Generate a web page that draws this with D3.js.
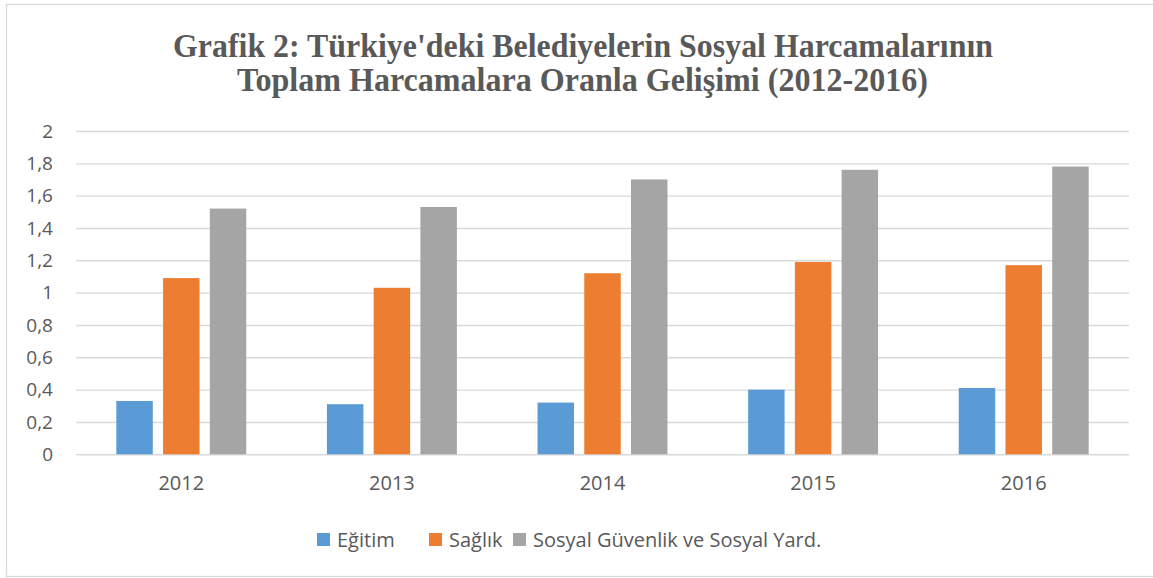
<!DOCTYPE html>
<html>
<head>
<meta charset="utf-8">
<script src="https://cdn.jsdelivr.net/npm/d3@7"></script>
<style>
  body { margin: 0; background: #fff; }
  svg { display: block; }
</style>
</head>
<body>
<svg></svg>
<script>
var years = ["2012", "2013", "2014", "2015", "2016"];
var seriesNames = ["Eğitim", "Sağlık", "Sosyal Güvenlik ve Sosyal Yard."];
var egitim = [0.33, 0.31, 0.32, 0.40, 0.41];
var saglik = [1.09, 1.03, 1.12, 1.19, 1.17];
var sosyal = [1.52, 1.53, 1.70, 1.76, 1.78];
var yTicks = [0, 0.2, 0.4, 0.6, 0.8, 1, 1.2, 1.4, 1.6, 1.8, 2];
var titleLines = ["Grafik 2: Türkiye'deki Belediyelerin Sosyal Harcamalarının",
                  "Toplam Harcamalara Oranla Gelişimi (2012-2016)"];

var colors = ["#5B9BD5", "#ED7D31", "#A5A5A5"];
var textColor = "#595959";
var svg_width = 1153, svg_height = 578;
var plotLeft = 76, plotRight = 1129, plotTop = 131, plotBottom = 454.3;

var svg = d3.select("svg")
  .attr("width", svg_width)
  .attr("height", svg_height);

// outer border of the chart area
svg.append("rect")
  .attr("x", 6.5).attr("y", 4.5)
  .attr("width", 1160).attr("height", 572)
  .attr("fill", "none")
  .attr("stroke", "#d9d9d9")
  .attr("stroke-width", 1.3);

// title
var title = svg.append("g")
  .attr("font-family", "'Liberation Serif', 'Times New Roman', serif")
  .attr("font-weight", "bold")
  .attr("font-size", 34)
  .attr("fill", textColor)
  .attr("text-anchor", "middle");
title.append("text").attr("x", 583).attr("y", 56.5)
  .attr("textLength", 820).attr("lengthAdjust", "spacingAndGlyphs")
  .text(titleLines[0]);
title.append("text").attr("x", 582.5).attr("y", 91)
  .attr("textLength", 691).attr("lengthAdjust", "spacingAndGlyphs")
  .text(titleLines[1]);

var y = d3.scaleLinear().domain([0, 2]).range([plotBottom, plotTop]);
var x0 = d3.scaleBand().domain(years).range([plotLeft, plotRight])
  .paddingInner(0.383).paddingOuter(0.1915);
var x1 = d3.scaleBand().domain([0, 1, 2]).range([0, x0.bandwidth()])
  .paddingInner(0.22).paddingOuter(0);

// gridlines + y labels
var yAxis = svg.append("g")
  .attr("transform", "translate(" + plotLeft + ",0)")
  .call(d3.axisLeft(y).tickValues(yTicks).tickSize(-(plotRight - plotLeft)).tickPadding(23)
    .tickFormat(function(d){ return String(d).replace(".", ","); }));
yAxis.select(".domain").remove();
yAxis.selectAll(".tick line").attr("stroke", "#d9d9d9").attr("stroke-width", 1.4);
yAxis.selectAll(".tick text")
  .attr("fill", textColor)
  .attr("font-family", "'Open Sans', sans-serif")
  .attr("font-size", 19);

// x labels
var xAxis = svg.append("g")
  .attr("transform", "translate(0," + plotBottom + ")")
  .call(d3.axisBottom(x0).tickSize(0).tickPadding(22));
xAxis.select(".domain").remove();
xAxis.selectAll(".tick text")
  .attr("fill", textColor)
  .attr("font-family", "'Open Sans', sans-serif")
  .attr("font-size", 20);

// bars
var series = [egitim, saglik, sosyal];
var groups = svg.selectAll("g.year")
  .data(years)
  .enter().append("g")
  .attr("class", "year")
  .attr("transform", function(d){ return "translate(" + x0(d) + ",0)"; });

groups.selectAll("rect")
  .data(function(d, i){ return series.map(function(s, k){ return {k: k, v: s[i]}; }); })
  .enter().append("rect")
  .attr("x", function(d){ return x1(d.k); })
  .attr("y", function(d){ return y(d.v); })
  .attr("width", x1.bandwidth())
  .attr("height", function(d){ return y(0) - y(d.v); })
  .attr("fill", function(d){ return colors[d.k]; });

// legend
var legendX = [317, 429, 513];
var legend = svg.selectAll("g.legend")
  .data(seriesNames)
  .enter().append("g")
  .attr("class", "legend")
  .attr("transform", function(d, i){ return "translate(" + legendX[i] + ",533)"; });
legend.append("rect")
  .attr("width", 13).attr("height", 13)
  .attr("fill", function(d, i){ return colors[i]; });
legend.append("text")
  .attr("x", 20).attr("y", 13.5)
  .attr("fill", textColor)
  .attr("font-family", "'Open Sans', sans-serif")
  .attr("font-size", 20)
  .text(function(d){ return d; });
</script>
</body>
</html>
